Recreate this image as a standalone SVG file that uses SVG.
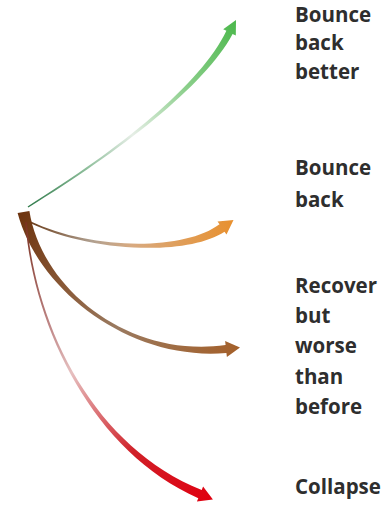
<svg xmlns="http://www.w3.org/2000/svg" width="388" height="506" viewBox="0 0 388 506">
  <style>
    .lbl { font-family: "Open Sans", "Liberation Sans", sans-serif; font-weight: 700; font-size: 20.5px; fill: #2e2e2e; }
  </style>
  <defs>
    <linearGradient id="gGreen" gradientUnits="userSpaceOnUse" x1="28" y1="207" x2="236" y2="20">
      <stop offset="0" stop-color="#2f7a4a"/>
      <stop offset="0.25" stop-color="#8fbf9c"/>
      <stop offset="0.45" stop-color="#e6eee6"/>
      <stop offset="0.7" stop-color="#8ccf8c"/>
      <stop offset="1" stop-color="#4cb84c"/>
    </linearGradient>
    <linearGradient id="gOrange" gradientUnits="userSpaceOnUse" x1="30" y1="222" x2="234" y2="222">
      <stop offset="0" stop-color="#6a3c1a"/>
      <stop offset="0.3" stop-color="#b0a090"/>
      <stop offset="0.5" stop-color="#d8aa80"/>
      <stop offset="1" stop-color="#e8902e"/>
    </linearGradient>
    <linearGradient id="gBrown" gradientUnits="userSpaceOnUse" x1="24" y1="212" x2="240" y2="348">
      <stop offset="0" stop-color="#6e3510"/>
      <stop offset="0.3" stop-color="#8a5a38"/>
      <stop offset="0.55" stop-color="#9a7a60"/>
      <stop offset="1" stop-color="#a4602a"/>
    </linearGradient>
    <linearGradient id="gRed" gradientUnits="userSpaceOnUse" x1="26" y1="222" x2="212" y2="500">
      <stop offset="0" stop-color="#7a3020"/>
      <stop offset="0.3" stop-color="#c08888"/>
      <stop offset="0.45" stop-color="#e6c0c0"/>
      <stop offset="0.75" stop-color="#d02028"/>
      <stop offset="1" stop-color="#e00010"/>
    </linearGradient>
  </defs>

  <g id="connectors">
    <path id="arrow-better" fill="url(#gGreen)"
      d="M28.4,207.6 C120.5,150.9 204.8,86 232.6,34 L235.8,35.6 L236,20 L223.2,29.2 L226.4,30.8 C201.2,84 119.5,149.2 27.6,206.4 Z"/>
    <path id="arrow-back" fill="url(#gOrange)"
      d="M29.7,222.7 C89.5,252.1 186.7,256.5 224.5,231.7 L226.5,234.6 L233.5,220.1 L217.5,221.4 L219.5,224.3 C183.3,251.5 90.5,249.9 30.3,221.3 Z"/>
    <path id="arrow-worse" fill="url(#gBrown)"
      d="M17.6,213.1 C38,290.4 130.2,361.5 226.4,353 L226.9,357 L240,347.5 L225.1,341 L225.6,345 C129.8,358.5 42,289.6 29.4,210.9 Z"/>
    <path id="arrow-collapse" fill="url(#gRed)"
      d="M25.2,222.1 C34.1,330.1 94,452.3 198.3,498.2 L196.9,501.4 L212.9,499.4 L203.1,486.6 L201.7,489.9 C96,447.7 35.9,329.9 26.8,221.9 Z"/>
  </g>

  <g id="label-better">
    <text class="lbl" x="295" y="22">Bounce</text>
    <text class="lbl" x="295" y="50">back</text>
    <text class="lbl" x="295" y="79">better</text>
  </g>
  <g id="label-back">
    <text class="lbl" x="295" y="175">Bounce</text>
    <text class="lbl" x="295" y="207">back</text>
  </g>
  <g id="label-worse">
    <text class="lbl" x="295" y="293">Recover</text>
    <text class="lbl" x="295" y="323">but</text>
    <text class="lbl" x="295" y="353">worse</text>
    <text class="lbl" x="295" y="384">than</text>
    <text class="lbl" x="295" y="414">before</text>
  </g>
  <g id="label-collapse">
    <text class="lbl" x="295" y="494">Collapse</text>
  </g>
</svg>
